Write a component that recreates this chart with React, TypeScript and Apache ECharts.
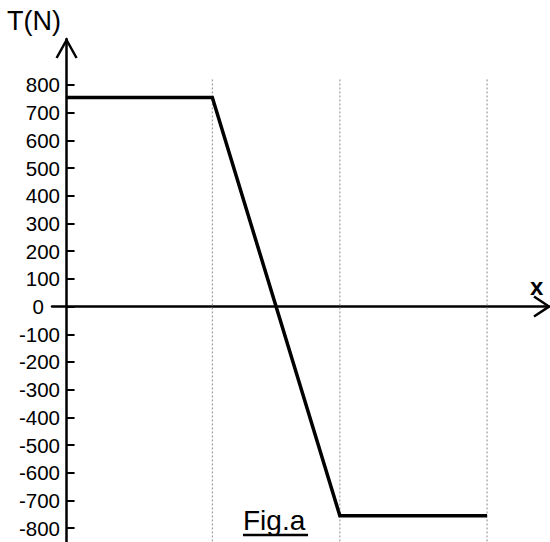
import React, { useEffect, useRef } from "react";
import * as echarts from "echarts";

// Data
const xBreaks = [0, 2, 3.75, 5.77];
const tValues = [755, 755, -755, -755];
const yTicks = [-800, -700, -600, -500, -400, -300, -200, -100, 0, 100, 200, 300, 400, 500, 600, 700, 800];
const guideXs = [2, 3.75, 5.77];
const guideTop = 820;
const yMin = -850;
const yMax = 966;
const xMin = -0.2;
const xMax = 6.62;

const FONT = "'Liberation Sans', Arial, sans-serif";

export default function App() {
  const ref = useRef<HTMLDivElement>(null);
  useEffect(() => {
    if (!ref.current) return;
    const chart = echarts.init(ref.current, undefined, { renderer: "svg" });
    const guideSeries = guideXs.map((gx) => ({
      type: "line",
      data: [
        [gx, guideTop],
        [gx, yMin],
      ],
      symbol: "none",
      silent: true,
      z: 1,
      lineStyle: { color: "#8a8a8a", width: 1, type: [2, 2] },
    }));
    chart.setOption({
      animation: false,
      backgroundColor: "#fff",
      grid: { left: 52, right: 1, top: 39, bottom: 0, containLabel: false },
      xAxis: {
        type: "value",
        min: xMin,
        max: xMax,
        axisLine: { show: true, onZero: true, lineStyle: { color: "#000", width: 2.5 } },
        axisTick: { show: false },
        axisLabel: { show: false },
        splitLine: { show: false },
      },
      yAxis: {
        type: "value",
        min: yMin,
        max: yMax,
        axisLine: { show: true, onZero: true, lineStyle: { color: "#000", width: 2.5 } },
        axisTick: {
          show: true,
          inside: true,
          length: 8,
          customValues: yTicks,
          lineStyle: { color: "#000", width: 2 },
        },
        axisLabel: {
          show: true,
          customValues: yTicks,
          margin: -8,
          color: "#000",
          fontSize: 20.5,
          fontFamily: FONT,
          formatter: (v: number) => (v === 0 ? "{z|0}" : String(v)),
          rich: {
            z: { fontSize: 20.5, fontFamily: FONT, color: "#000", padding: [0, 16, 0, 0] },
          },
        },
        splitLine: { show: false },
      },
      series: [
        ...guideSeries,
        {
          type: "line",
          data: xBreaks.map((x, i) => [x, tValues[i]]),
          symbol: "none",
          z: 5,
          lineStyle: { color: "#000", width: 3.5, cap: "butt", join: "miter" },
        },
      ],
    });

    const yTip = chart.convertToPixel({ gridIndex: 0 }, [0, yMax]) as number[];
    const xTip = chart.convertToPixel({ gridIndex: 0 }, [xMax, 0]) as number[];
    const ax = yTip[0];
    const ay = yTip[1];
    const bx = xTip[0];
    const by = xTip[1];
    chart.setOption({
      graphic: [
        {
          type: "polyline",
          shape: { points: [[ax - 10, ay + 19], [ax, ay + 1], [ax + 10, ay + 19]] },
          style: { stroke: "#000", lineWidth: 2.5, fill: "none" },
          z: 10,
        },
        {
          type: "polyline",
          shape: { points: [[bx - 15, by - 10], [bx, by], [bx - 15, by + 10]] },
          style: { stroke: "#000", lineWidth: 2.5, fill: "none" },
          z: 10,
        },
        {
          type: "text",
          left: 7,
          top: 7,
          style: { text: "T(N)", fontSize: 27, fontFamily: FONT, fill: "#000" },
        },
        {
          type: "text",
          left: 530,
          top: 274,
          style: { text: "x", fontSize: 24, fontWeight: "bold", fontFamily: FONT, fill: "#000" },
        },
        {
          type: "text",
          left: 243,
          top: 506,
          style: { text: "Fig.a", fontSize: 28, fontFamily: FONT, fill: "#000" },
        },
        {
          type: "line",
          shape: { x1: 243, y1: 535, x2: 308, y2: 535 },
          style: { stroke: "#000", lineWidth: 2.5 },
        },
      ],
    });
    return () => chart.dispose();
  }, []);
  return (
    <div
      ref={ref}
      style={{ position: "absolute", left: 0, top: 0, width: 550, height: 542 }}
    />
  );
}
